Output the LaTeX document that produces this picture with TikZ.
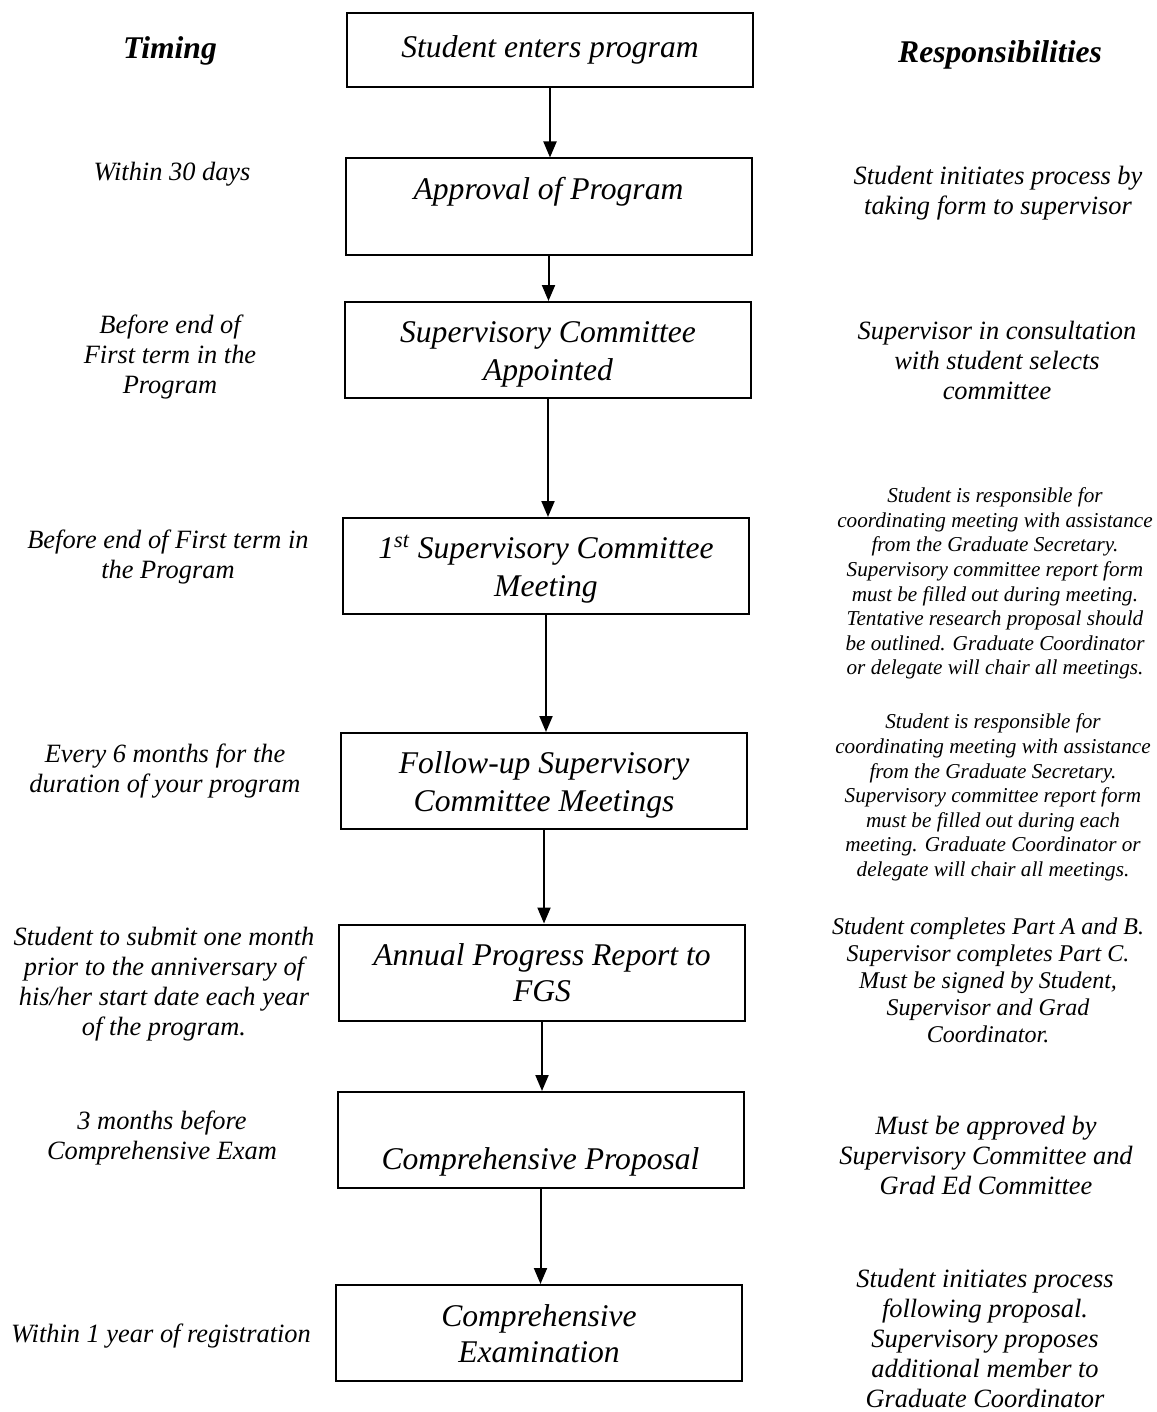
\documentclass[tikz,border=0pt]{standalone}
\usepackage{fontspec}
\setmainfont{Liberation Serif}
\usetikzlibrary{arrows.meta}
\newcommand\boxstrut{\rule[-3.4pt]{0pt}{18pt}}
\tikzset{
  stepbox/.style={draw, line width=1pt, minimum width=203pt, minimum height=48pt, inner sep=0pt, align=center, font=\fontsize{15.8}{18}\selectfont\itshape},
  lefttext/.style={align=center, inner sep=0pt, font=\fontsize{13.2}{15}\selectfont\itshape},
  smalltext/.style={align=center, inner sep=0pt, font=\fontsize{10.6}{12.3}\selectfont\itshape},
  midtext/.style={align=center, inner sep=0pt, font=\fontsize{12}{13.5}\selectfont\itshape},
  headtext/.style={inner sep=0pt, font=\fontsize{15.8}{18}\selectfont\bfseries\itshape},
  arr/.style={line width=1pt, -{Triangle[width=6.5pt,length=8pt]}}
}
\begin{document}
\begin{tikzpicture}[x=0.5pt,y=-0.5pt]
\useasboundingbox (0,0) rectangle (1156,1412);
% headers
\node[headtext] (hT) at (170,51) {Timing};
\node[headtext] (hR) at (1000,55) {Responsibilities};
% boxes
\node[stepbox, minimum height=37pt] (b1) at (550,50) {Student enters program};
\node[stepbox] (b2) at (548.5,206.5) {\boxstrut Approval of Program\\\boxstrut};
\node[stepbox] (b3) at (548,350) {\boxstrut Supervisory Committee\\\boxstrut Appointed};
\node[stepbox] (b4) at (546,566) {\boxstrut 1\textsuperscript{st} Supervisory Committee\\\boxstrut Meeting};
\node[stepbox] (b5) at (544,781) {\boxstrut Follow-up Supervisory\\\boxstrut Committee Meetings};
\node[stepbox] (b6) at (542,972.5) {\boxstrut Annual Progress Report to\\\boxstrut FGS};
\node[stepbox] (b7) at (540.5,1140) {\boxstrut\\\boxstrut Comprehensive Proposal};
\node[stepbox] (b8) at (539,1333) {\boxstrut Comprehensive\\\boxstrut Examination};
% arrows
\draw[arr] (b1.south) -- (b1.south |- b2.north);
\draw[arr] (b2.south) -- (b2.south |- b3.north);
\draw[arr] (b3.south) -- (b3.south |- b4.north);
\draw[arr] (b4.south) -- (b4.south |- b5.north);
\draw[arr] (b5.south) -- (b5.south |- b6.north);
\draw[arr] (b6.south) -- (b6.south |- b7.north);
\draw[arr] (b7.south) -- (b7.south |- b8.north);
% timing column
\node[lefttext] (t2) at (172,174) {Within 30 days};
\node[lefttext] (t3) at (170,357) {Before end of\\First term in the\\Program};
\node[lefttext] (t4) at (168,557) {Before end of First term in\\the Program};
\node[lefttext] (t5) at (165,771) {Every 6 months for the\\duration of your program};
\node[lefttext] (t6) at (164,984) {Student to submit one month\\prior to the anniversary of\\his/her start date each year\\of the program.};
\node[lefttext] (t7) at (162,1138) {3 months before\\Comprehensive Exam};
\node[lefttext] (t8) at (161,1336) {Within 1 year of registration};
% responsibilities column
\node[lefttext] (r2) at (998,193) {Student initiates process by\\taking form to supervisor};
\node[lefttext] (r3) at (997,360.5) {Supervisor in consultation\\with student selects\\committee};
\node[smalltext] (r4) at (995,583.5) {Student is responsible for\\coordinating meeting with assistance\\from the Graduate Secretary.\\Supervisory committee report form\\must be filled out during meeting.\\Tentative research proposal should\\be outlined. Graduate Coordinator\\or delegate will chair all meetings.};
\node[smalltext] (r5) at (993,797.5) {Student is responsible for\\coordinating meeting with assistance\\from the Graduate Secretary.\\Supervisory committee report form\\must be filled out during each\\meeting. Graduate Coordinator or\\delegate will chair all meetings.};
\node[midtext] (r6) at (988,980) {Student completes Part A and B.\\Supervisor completes Part C.\\Must be signed by Student,\\Supervisor and Grad\\Coordinator.};
\node[lefttext] (r7) at (986,1155) {Must be approved by\\Supervisory Committee and\\Grad Ed Committee};
\node[lefttext] (r8) at (985,1338) {Student initiates process\\following proposal.\\Supervisory proposes\\additional member to\\Graduate Coordinator};
\end{tikzpicture}
\end{document}
